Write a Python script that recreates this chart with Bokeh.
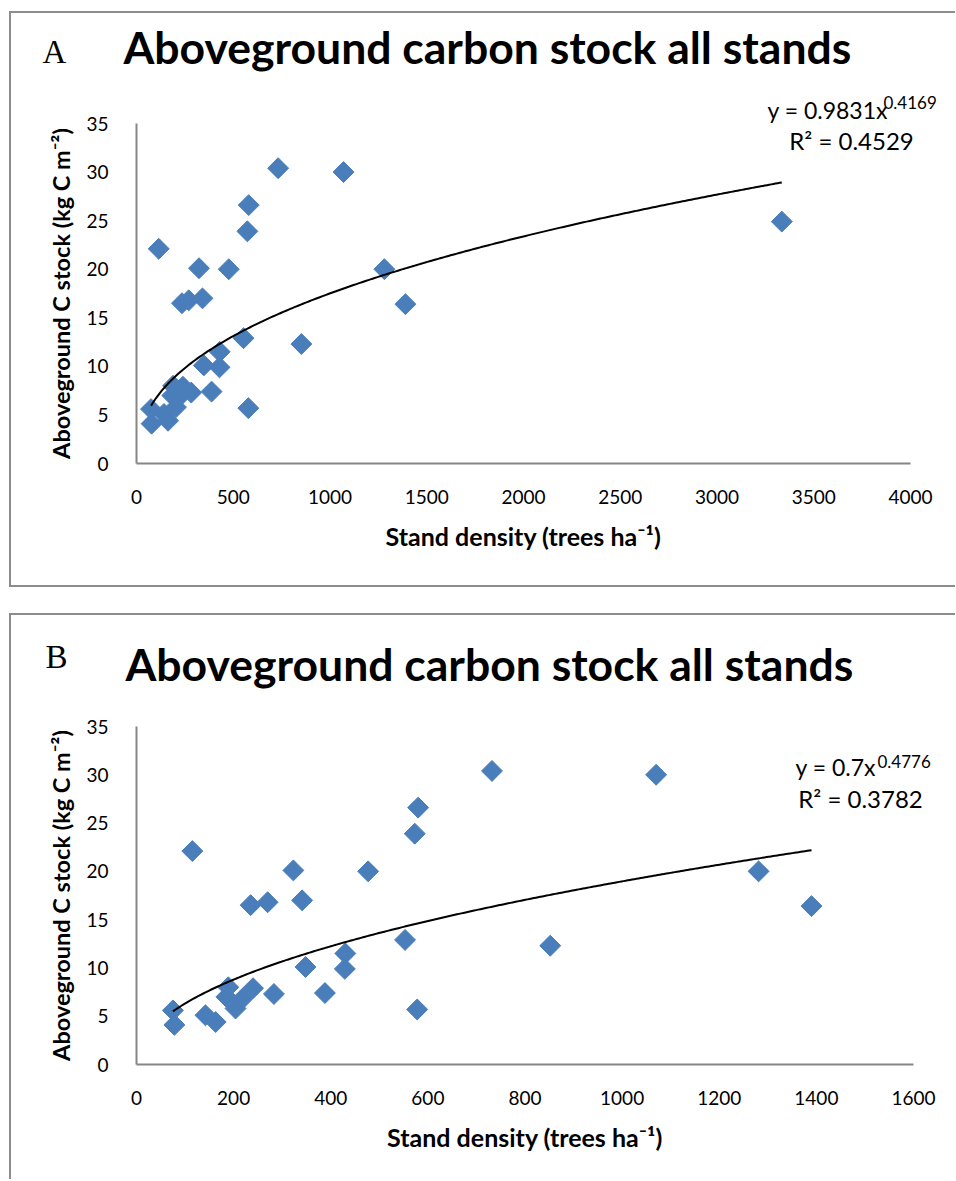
import numpy as np
from bokeh.plotting import figure
from bokeh.models import Range1d, FixedTicker, Label
from bokeh.layouts import column
from bokeh.embed import file_html
from bokeh.resources import INLINE

# ---- data ----
density = [75, 78, 115, 142, 163, 185, 189, 204, 218, 240, 235, 270, 283, 323, 341,
           348, 388, 429, 430, 477, 553, 573, 578, 580, 732, 852, 1070, 1281, 1390]
carbon = [5.6, 4.1, 22.1, 5.1, 4.4, 7.0, 8.0, 5.8, 6.8, 7.9, 16.5, 16.8, 7.3, 20.1, 17.0,
          10.1, 7.4, 9.9, 11.5, 20.0, 12.9, 23.9, 5.7, 26.6, 30.4, 12.3, 30.0, 20.0, 16.4]
extra_density = [3335]
extra_carbon = [24.9]

fit_a = (0.9831, 0.4169, "0.4529")
fit_b = (0.7, 0.4776, "0.3782")

title_text = "Aboveground carbon stock all stands"
x_label = "Stand density (trees ha\u207b\u00b9)"
y_label = "Aboveground C stock (kg C m\u207b\u00b2)"

x_ticks_a = [0, 500, 1000, 1500, 2000, 2500, 3000, 3500, 4000]
x_ticks_b = [0, 200, 400, 600, 800, 1000, 1200, 1400, 1600]
y_ticks = [0, 5, 10, 15, 20, 25, 30, 35]

BLUE = "#4a7ebb"
AXIS = "#868686"
BOX = "#8c8c8c"
BODY = "Lato"
CANVAS_W = 944
CANVAS_LEFT = 11  # page x of canvas left edge


def make_panel(letter, xs, ys, fit, xticks, canvas_top, canvas_h, frame_box,
               letter_pos, title_pos, eq_pos, sup_pos, r2_pos, eq_main, eq_sup,
               styles, margin):
    """frame_box = (page x of xmin, page x of xmax, page y of 35, page y of 0)."""
    a, b, r2 = fit
    fx0, fx1, fy1, fy0 = frame_box
    xmax = xticks[-1]
    kx = (fx1 - fx0) / xmax
    ky = (fy0 - fy1) / 35.0
    canvas_bottom = canvas_top + canvas_h
    x_rng = Range1d(-(fx0 - CANVAS_LEFT) / kx, xmax + (CANVAS_LEFT + CANVAS_W - fx1) / kx)
    y_rng = Range1d(-(canvas_bottom - fy0) / ky, 35 + (fy1 - canvas_top) / ky)

    p = figure(width=CANVAS_W, height=canvas_h, output_backend="svg", toolbar_location=None,
               x_range=x_rng, y_range=y_rng, min_border=0)
    p.styles = styles
    p.margin = margin
    p.outline_line_color = None
    p.xgrid.visible = False
    p.ygrid.visible = False
    p.background_fill_color = "white"
    p.border_fill_color = "white"

    p.xaxis.fixed_location = 0
    p.yaxis.fixed_location = 0
    p.xaxis.bounds = (0, xmax)
    p.yaxis.bounds = (0, 35)
    for ax in (p.xaxis[0], p.yaxis[0]):
        ax.axis_line_color = AXIS
        ax.axis_line_width = 2
        ax.major_tick_line_color = None
        ax.minor_tick_line_color = None
        ax.major_label_text_font = BODY
        ax.major_label_text_font_size = "19px"
        ax.major_label_text_color = "black"
        ax.axis_label_text_font = BODY
        ax.axis_label_text_font_style = "bold"
        ax.axis_label_text_color = "black"
    p.xaxis.axis_label_text_font_size = "25px"
    p.yaxis.axis_label_text_font_size = "23.5px"
    p.xaxis.ticker = FixedTicker(ticks=xticks)
    p.yaxis.ticker = FixedTicker(ticks=y_ticks)
    p.xaxis.axis_label = x_label
    p.yaxis.axis_label = y_label
    p.xaxis.major_label_standoff = 20
    p.xaxis.axis_label_standoff = 14
    p.yaxis.major_label_standoff = 22
    p.yaxis.axis_label_standoff = 8

    p.scatter(xs, ys, marker="square", angle=np.pi / 4, size=14.8,
              fill_color=BLUE, line_color=BLUE)

    tx = np.linspace(min(xs), max(xs), 300)
    p.line(tx, a * tx ** b, line_color="black", line_width=2)

    def sc(pos):
        return dict(x=pos[0] - CANVAS_LEFT, y=canvas_bottom - pos[1],
                    x_units="screen", y_units="screen")

    p.add_layout(Label(**sc(letter_pos), text=letter, text_font="Liberation Serif",
                       text_font_size="33px", text_color="black",
                       text_baseline="alphabetic"))
    p.add_layout(Label(**sc(title_pos), text=title_text, text_font=BODY,
                       text_font_style="bold", text_font_size="44.5px", text_color="black",
                       text_baseline="alphabetic"))
    p.add_layout(Label(**sc(eq_pos), text=eq_main, text_font=BODY, text_font_size="23px",
                       text_color="black", text_baseline="alphabetic"))
    p.add_layout(Label(**sc(sup_pos), text=eq_sup, text_font=BODY, text_font_size="17px",
                       text_color="black", text_baseline="alphabetic"))
    p.add_layout(Label(**sc(r2_pos), text="R\u00b2 = " + r2, text_font=BODY,
                       text_font_size="24px", text_color="black",
                       text_baseline="alphabetic", text_align="center"))
    return p


shadow_a = f"-2px 0 0 0 {BOX}, 0 -2px 0 0 {BOX}, 0 2px 0 0 {BOX}, -2px -2px 0 0 {BOX}, -2px 2px 0 0 {BOX}"
shadow_b = f"-2px 0 0 0 {BOX}, 0 -2px 0 0 {BOX}, -2px -2px 0 0 {BOX}"

pA = make_panel("A", density + extra_density, carbon + extra_carbon, fit_a, x_ticks_a,
                canvas_top=13, canvas_h=572, frame_box=(136, 910, 123, 463),
                letter_pos=(42, 51), title_pos=(123, 46),
                eq_pos=(767, 109), sup_pos=(883, 102), r2_pos=(851, 140),
                eq_main="y = 0.9831x", eq_sup="0.4169",
                styles={"box-shadow": shadow_a},
                margin=(13, 0, 0, 11))
pB = make_panel("B", density, carbon, fit_b, x_ticks_b,
                canvas_top=615, canvas_h=564, frame_box=(136, 913, 726, 1064),
                letter_pos=(45, 656), title_pos=(125, 663),
                eq_pos=(795, 766), sup_pos=(877, 761), r2_pos=(860, 798),
                eq_main="y = 0.7x", eq_sup="0.4776",
                styles={"box-shadow": shadow_b},
                margin=(30, 0, 0, 11))

layout = column(pA, pB)
open("out.html", "w").write(file_html(layout, INLINE))
